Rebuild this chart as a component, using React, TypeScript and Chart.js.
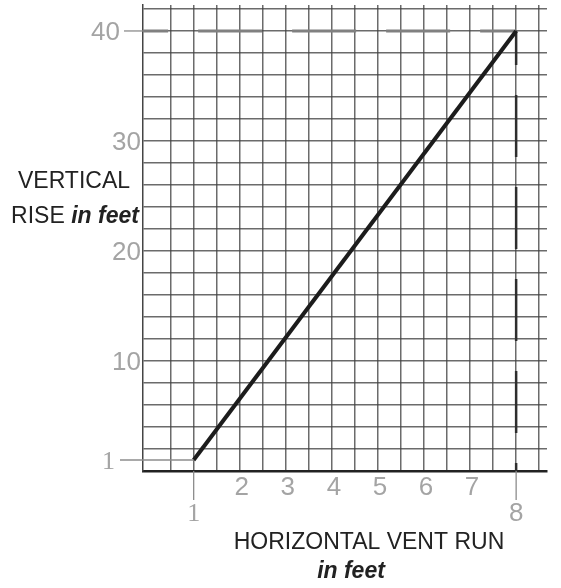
import React, { useEffect, useRef } from 'react';
import { Chart, registerables } from 'chart.js';

Chart.register(...registerables);

// Data
const runFeet = [1, 8];
const riseFeet = [1, 40];
const xTickLabels = [1, 2, 3, 4, 5, 6, 7, 8];
const xTickLabelsLow = [1, 8];
const yTickLabels = [1, 10, 20, 30, 40];
const xMin = -0.1;
const xMax = 8.67;
const yMin = 0;
const yMax = 42.36;
const xGridStep = 0.5;
const yGridStep = 2;

const W = 561;
const H = 588;

function gridValues(from: number, to: number, step: number) {
  const out: { value: number }[] = [];
  for (let v = from; v <= to + 1e-9; v += step) out.push({ value: Math.round(v * 1000) / 1000 });
  return out;
}

const SANS = '"Liberation Sans", Arial, sans-serif';

function drawMixed(c: CanvasRenderingContext2D, parts: { t: string; f: string }[], cx: number, baseline: number) {
  let total = 0;
  for (const p of parts) {
    c.font = p.f;
    total += c.measureText(p.t).width;
  }
  let x = cx - total / 2;
  c.textAlign = 'left';
  c.textBaseline = 'alphabetic';
  for (const p of parts) {
    c.font = p.f;
    c.fillText(p.t, x, baseline);
    x += c.measureText(p.t).width;
  }
}

export default function App() {
  const ref = useRef<HTMLCanvasElement>(null);

  useEffect(() => {
    const canvas = ref.current;
    if (!canvas) return;

    const labelsPlugin = {
      id: 'customLabels',
      afterDraw(chart: any) {
        const c: CanvasRenderingContext2D = chart.ctx;
        const xs = chart.scales.x;
        const ys = chart.scales.y;
        const area = chart.chartArea;
        const digitFont = `26px ${SANS}`;
        const oneFont = '26px "Liberation Serif", "Times New Roman", serif';
        c.save();
        c.fillStyle = '#a4a4a4';
        c.strokeStyle = '#8c8c8c';
        c.lineWidth = 1.3;
        c.textBaseline = 'alphabetic';

        // x tick labels
        for (const v of xTickLabels) {
          const px = xs.getPixelForValue(v);
          const low = xTickLabelsLow.includes(v);
          c.font = v === 1 ? oneFont : digitFont;
          c.textAlign = 'center';
          if (low) {
            c.beginPath();
            c.moveTo(px, area.bottom);
            c.lineTo(px, area.bottom + 29);
            c.stroke();
            c.fillText(String(v), px, area.bottom + 50);
          } else {
            c.fillText(String(v), px + 2, area.bottom + 24);
          }
        }

        // y tick labels
        for (const v of yTickLabels) {
          const py = ys.getPixelForValue(v);
          c.textAlign = 'right';
          if (v === riseFeet[1]) {
            c.font = digitFont;
            c.beginPath();
            c.moveTo(area.left - 19, py);
            c.lineTo(area.left, py);
            c.stroke();
            c.fillText(String(v), area.left - 23, py + 9.5);
          } else if (v === 1) {
            c.font = oneFont;
            c.beginPath();
            c.moveTo(area.left - 23, py);
            c.lineTo(xs.getPixelForValue(runFeet[0]), py);
            c.stroke();
            c.fillText(String(v), area.left - 28, py + 9.5);
          } else {
            c.font = digitFont;
            c.fillText(String(v), area.left - 2, py + 9.5);
          }
        }

        // axis titles
        c.fillStyle = '#222222';
        const norm = `23px ${SANS}`;
        const bi = `italic bold 23px ${SANS}`;
        drawMixed(c, [{ t: 'VERTICAL', f: norm }], 74, 188);
        drawMixed(c, [{ t: 'RISE ', f: norm }, { t: 'in feet', f: bi }], 75, 223);
        drawMixed(c, [{ t: 'HORIZONTAL VENT RUN', f: norm }], 369, 549);
        drawMixed(c, [{ t: 'in feet', f: bi }], 351, 578);
        c.restore();
      },
    };

    const chart = new Chart(canvas, {
      type: 'scatter',
      data: {
        datasets: [
          {
            data: runFeet.map((x, i) => ({ x, y: riseFeet[i] })),
            showLine: true,
            borderColor: '#1c1c1c',
            borderWidth: 4,
            pointRadius: 0,
            order: 0,
          },
          {
            data: [
              { x: runFeet[1], y: riseFeet[1] },
              { x: xMin, y: riseFeet[1] },
            ],
            showLine: true,
            borderColor: '#808080',
            borderWidth: 3,
            borderDash: [64, 30],
            borderDashOffset: 28,
            pointRadius: 0,
            order: 1,
          },
          {
            data: [
              { x: runFeet[1], y: riseFeet[1] },
              { x: runFeet[1], y: yMin },
            ],
            showLine: true,
            borderColor: '#2e2e2e',
            borderWidth: 2.5,
            borderDash: [62, 30],
            borderDashOffset: 28,
            pointRadius: 0,
            order: 1,
          },
        ],
      },
      options: {
        animation: false,
        responsive: false,
        events: [],
        layout: { padding: { left: 143, top: 5, right: 14, bottom: 117 } },
        plugins: { legend: { display: false }, tooltip: { enabled: false } },
        scales: {
          x: {
            type: 'linear',
            min: xMin,
            max: xMax,
            afterBuildTicks: (s: any) => {
              s.ticks = gridValues(xGridStep, 8.5, xGridStep);
            },
            ticks: { display: false },
            grid: { color: 'rgba(65,65,65,0.78)', lineWidth: 1.5, drawTicks: false },
            border: { color: '#222222', width: 2.5 },
          },
          y: {
            type: 'linear',
            min: yMin,
            max: yMax,
            afterBuildTicks: (s: any) => {
              s.ticks = gridValues(yMin, 42, yGridStep);
            },
            ticks: { display: false },
            grid: { color: 'rgba(65,65,65,0.78)', lineWidth: 1.5, drawTicks: false },
            border: { color: '#444444', width: 1.5 },
          },
        },
      },
      plugins: [labelsPlugin],
    } as any);

    return () => chart.destroy();
  }, []);

  return (
    <div style={{ position: 'absolute', left: 0, top: 0, width: W, height: H, background: '#fff' }}>
      <canvas ref={ref} width={W} height={H} style={{ display: 'block', width: W, height: H }} />
    </div>
  );
}
